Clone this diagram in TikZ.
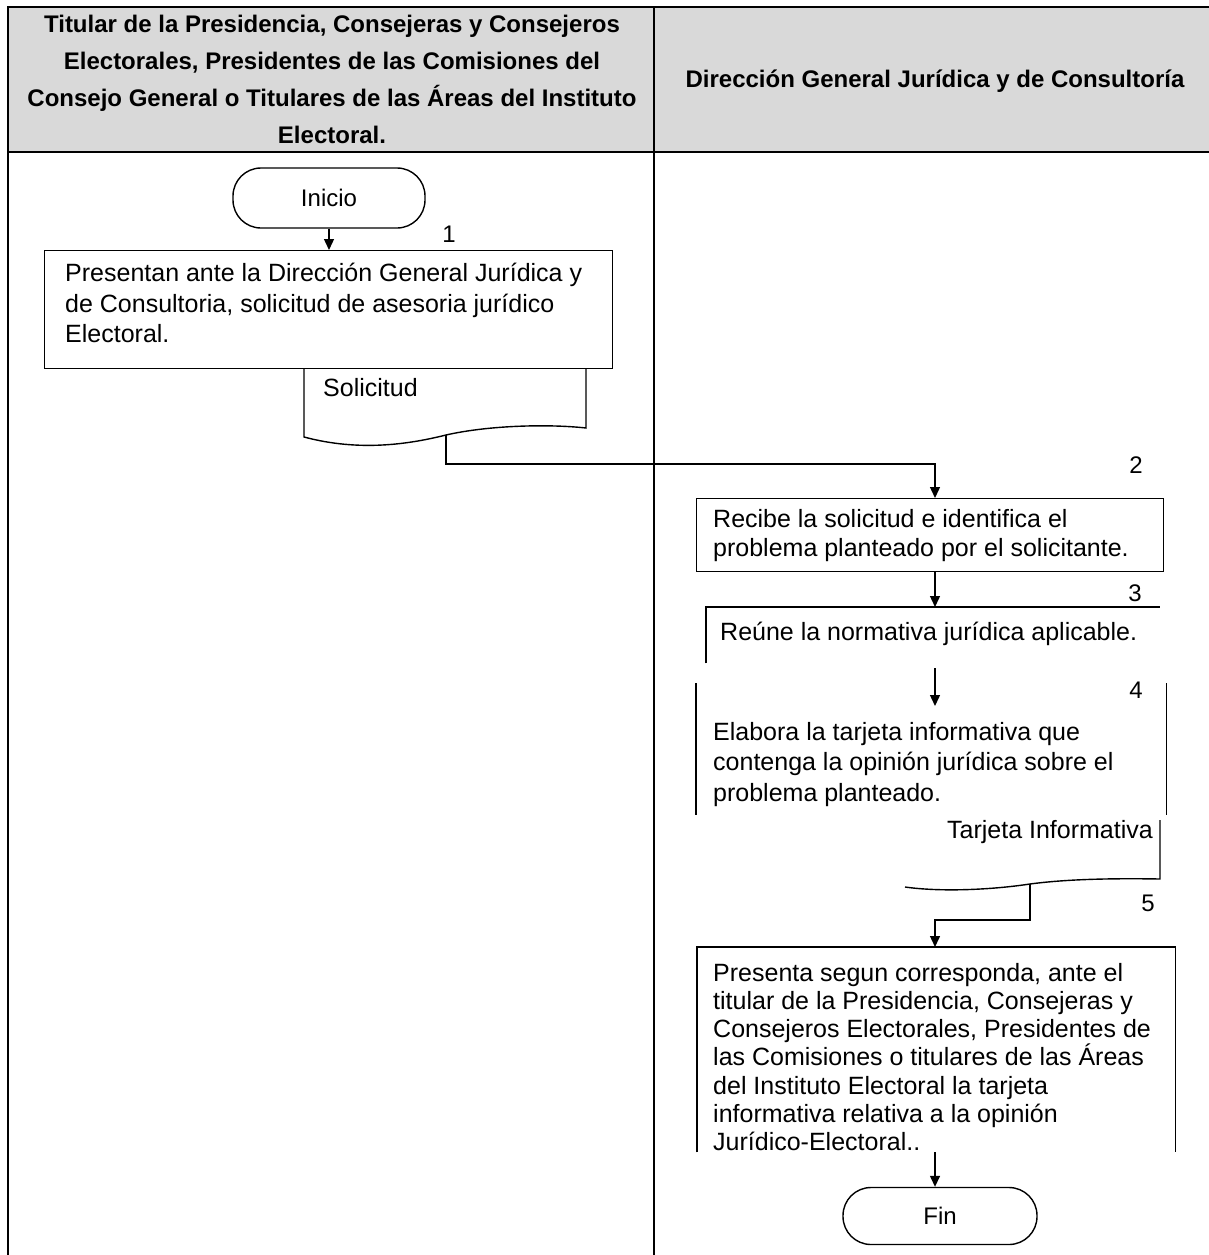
\documentclass[tikz,border=0pt]{standalone}
\usepackage{fontspec}
\setmainfont{Liberation Sans}
\usetikzlibrary{arrows.meta,calc}
\definecolor{hdrgray}{RGB}{217,217,217}
\begin{document}
\begin{tikzpicture}[x=1pt,y=-1pt,
  ln/.style={line width=1.4pt},
  arr/.style={line width=1.4pt,-{Triangle[width=10pt,length=11pt]}},
  body/.style={font=\fontsize{25}{29.5}\selectfont, align=left, anchor=north west, inner sep=0pt},
  hdr/.style={font=\bfseries\fontsize{24}{37}\selectfont, align=center, inner sep=0pt},
  term/.style={draw,line width=1.4pt,rounded corners=28pt,minimum width=192pt,minimum height=60pt,font=\fontsize{24}{29}\selectfont,inner sep=0pt},
  num/.style={font=\fontsize{24}{29}\selectfont, inner sep=0pt},
  box/.style={draw,line width=1.4pt,rectangle,inner sep=0pt}]
\useasboundingbox (0,0) rectangle (1209,1255);
% table
\fill[hdrgray] (8,7) rectangle (1220,152);
\draw[ln] (1220,7) -- (8,7) -- (8,1262);
\draw[ln] (8,152) -- (1220,152);
\draw[ln] (654,7) -- (654,1262);
\node[hdr] (h1) at (332,79) {Titular de la Presidencia, Consejeras y Consejeros\\Electorales, Presidentes de las Comisiones del\\Consejo General o Titulares de las Áreas del Instituto\\Electoral.};
\node[hdr] (h2) at (935,81) {Dirección General Jurídica y de Consultoría};
% helper x for the right lane arrows
\coordinate (ax) at (935,0);
% left lane
\node[term] (ini) at (329,198) {Inicio};
\node[box, minimum width=568pt, minimum height=118pt, anchor=north west] (b1) at (44,250) {};
\node[body, font=\fontsize{25}{30.5}\selectfont] (t1) at (65,263) {Presentan ante la Dirección General Jurídica y\\de Consultoria, solicitud de asesoria jurídico\\Electoral.};
\node[num] (n1) at (449,234) {1};
\draw[arr] (ini.south) -- (ini.south |- b1.north);
\draw[ln] (304,368) -- (304,437) .. controls (360,452) and (410,444) .. (446,435) .. controls (490,425) and (550,424) .. (586,428) -- (586,368);
\coordinate (s1) at (446,435);
\node[body] (sol) at (323,378) {Solicitud};
% right lane
\node[box, minimum width=467pt, minimum height=73pt, anchor=north west] (b2) at (696,498) {};
\node[body] (t2) at (713,509) {Recibe la solicitud e identifica el\\problema planteado por el solicitante.};
\node[num] (n2) at (1136,465) {2};
\draw[arr] (s1) |- (935,464) -- (b2.north -| ax);
\node[minimum width=454pt, minimum height=56pt, anchor=north west, inner sep=0pt] (b3) at (706,607) {};
\draw[ln] (b3.south west) -- (b3.north west) -- (b3.north east);
\node[body] (t3) at (720,622) {Reúne la normativa jurídica aplicable.};
\node[num] (n3) at (1135,593) {3};
\draw[arr] (b2.south -| ax) -- (b3.north -| ax);
\node[minimum width=470pt, minimum height=132pt, anchor=north west, inner sep=0pt] (b4) at (696,683) {};
\draw[ln] (b4.north west) -- (b4.south west);
\draw[ln] (b4.north east) -- (b4.south east);
\coordinate (a4) at (935,706);
\coordinate (a3) at ($(b3.south -| ax)+(0,5)$);
\draw[arr] (a3) -- (a4);
\node[body, font=\fontsize{25}{30.5}\selectfont] (t4) at (713,722) {Elabora la tarjeta informativa que\\contenga la opinión jurídica sobre el\\problema planteado.};
\node[num] (n4) at (1136,690) {4};
\node[body, anchor=north east] (tar) at (1153,820) {Tarjeta Informativa};
\draw[ln] (1160,820) -- (1160,879) .. controls (1100,878) and (1060,880) .. (1030,884) .. controls (990,890) and (940,892) .. (905,887);
\coordinate (s2) at (1030,884);
\node[minimum width=478pt, minimum height=205pt, anchor=north west, inner sep=0pt] (b5) at (697,947) {};
\draw[ln] (b5.south west) -- (b5.north west) -- (b5.north east) -- (b5.south east);
\node[body, font=\fontsize{25}{28.2}\selectfont] (t5) at (713,963) {Presenta segun corresponda, ante el\\titular de la Presidencia, Consejeras y\\Consejeros Electorales, Presidentes de\\las Comisiones o titulares de las Áreas\\del Instituto Electoral la tarjeta\\informativa relativa a la opinión\\Jurídico-Electoral..};
\node[num] (n5) at (1148,903) {5};
\coordinate (k5) at (935,920);
\draw[arr] (s2) |- (k5) -- (b5.north -| ax);
\node[term, minimum width=194pt, minimum height=57pt] (fin) at (940,1216) {Fin};
\draw[arr] (b5.south -| ax) -- (fin.north -| ax);
\end{tikzpicture}
\end{document}
